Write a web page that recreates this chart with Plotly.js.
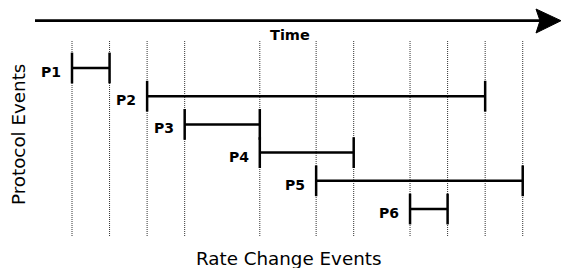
<!DOCTYPE html>
<html>
<head>
<meta charset="utf-8">
<script src="https://cdn.plot.ly/plotly-3.0.1.min.js"></script>
<style>html,body{margin:0;padding:0;background:#fff;}#chart{width:561px;height:268px;}</style>
</head>
<body>
<div id="chart"></div>
<script>
// Data
const protocols = ["P1", "P2", "P3", "P4", "P5", "P6"];
const starts = [0, 2, 3, 5, 6.5, 9];
const ends = [1, 11, 5, 7.5, 12, 10];
const rows = [1, 2, 3, 4, 5, 6];
const rateChangeTimes = [0, 1, 2, 3, 5, 6.5, 7.5, 9, 10, 11, 12];

const W = 561, H = 268;
const px = v => v / W;
const py = v => 1 - v / H;
const unit = 37.56;
const rowStep = 28.2;

const traces = protocols.map((p, i) => ({
  type: "scatter",
  mode: "lines+markers",
  x: [starts[i], ends[i]],
  y: [rows[i], rows[i]],
  line: {color: "#000", width: 2.5},
  marker: {symbol: "line-ns-open", size: 22, line: {color: "#000", width: 2.5}},
  hoverinfo: "skip",
  showlegend: false
}));

const shapes = rateChangeTimes.map(t => ({
  type: "line", xref: "x", yref: "paper",
  x0: t, x1: t, y0: py(236), y1: py(40),
  line: {color: "#333", width: 1, dash: "1px,1px"},
  layer: "below"
}));

// Time arrow
shapes.push({
  type: "line", xref: "paper", yref: "paper",
  x0: px(35), x1: px(541), y0: py(20.7), y1: py(20.7),
  line: {color: "#000", width: 2.7}
});
shapes.push({
  type: "path", xref: "paper", yref: "paper",
  path: `M ${px(561)},${py(20.7)} L ${px(536)},${py(9)} L ${px(540)},${py(20.7)} L ${px(536)},${py(33)} Z`,
  fillcolor: "#000", line: {color: "#000", width: 1}
});

const annotations = protocols.map((p, i) => ({
  x: starts[i], y: rows[i], xref: "x", yref: "y",
  text: "<b>" + p + "</b>", showarrow: false,
  xanchor: "right", yanchor: "middle", xshift: -9, yshift: -4,
  font: {family: "DejaVu Sans", size: 14, color: "#000"}
}));
annotations.push({
  x: px(289.5), y: py(35), xref: "paper", yref: "paper",
  text: "<b>Time</b>", showarrow: false, xanchor: "center", yanchor: "middle",
  font: {family: "DejaVu Sans", size: 14.5, color: "#000"}
});
annotations.push({
  x: px(18), y: py(135), xref: "paper", yref: "paper",
  text: "Protocol Events", showarrow: false, textangle: -90,
  xanchor: "center", yanchor: "middle",
  font: {family: "DejaVu Sans", size: 18.3, color: "#000"}
});
annotations.push({
  x: px(288), y: py(258), xref: "paper", yref: "paper",
  text: "Rate Change Events", showarrow: false,
  xanchor: "center", yanchor: "middle",
  font: {family: "DejaVu Sans", size: 18.3, color: "#000"}
});

const layout = {
  width: W, height: H,
  margin: {l: 0, r: 0, t: 0, b: 0, pad: 0},
  paper_bgcolor: "#fff", plot_bgcolor: "#fff",
  xaxis: {range: [-72 / unit, (W - 72) / unit], visible: false, fixedrange: true},
  yaxis: {range: [1 + (H - 68) / rowStep, 1 - 68 / rowStep], visible: false, fixedrange: true},
  shapes: shapes,
  annotations: annotations,
  showlegend: false
};

Plotly.newPlot("chart", traces, layout, {displayModeBar: false, staticPlot: true});
</script>
</body>
</html>
